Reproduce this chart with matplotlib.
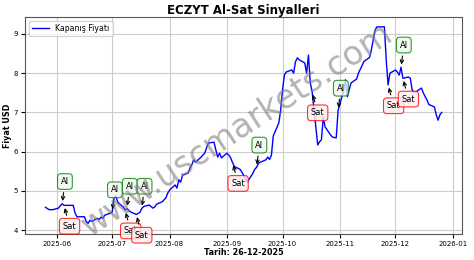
import matplotlib
matplotlib.use('Agg')
import matplotlib.pyplot as plt
import matplotlib.dates as mdates
import numpy as np
import pandas as pd

# closing prices
dates = ['2025-05-26', '2025-05-27', '2025-05-28', '2025-05-29', '2025-05-30',
         '2025-06-02', '2025-06-03', '2025-06-04', '2025-06-05', '2025-06-10',
         '2025-06-11', '2025-06-12', '2025-06-13', '2025-06-16', '2025-06-17',
         '2025-06-18', '2025-06-19', '2025-06-20', '2025-06-23', '2025-06-24',
         '2025-06-25', '2025-06-26', '2025-06-27', '2025-06-30', '2025-07-01',
         '2025-07-02', '2025-07-03', '2025-07-04', '2025-07-07', '2025-07-08',
         '2025-07-09', '2025-07-10', '2025-07-11', '2025-07-14', '2025-07-16',
         '2025-07-17', '2025-07-18', '2025-07-21', '2025-07-22', '2025-07-23',
         '2025-07-24', '2025-07-25', '2025-07-28', '2025-07-29', '2025-07-30',
         '2025-07-31', '2025-08-01', '2025-08-04', '2025-08-05', '2025-08-06',
         '2025-08-07', '2025-08-08', '2025-08-11', '2025-08-12', '2025-08-13',
         '2025-08-14', '2025-08-15', '2025-08-18', '2025-08-19', '2025-08-20',
         '2025-08-21', '2025-08-22', '2025-08-25', '2025-08-26', '2025-08-27',
         '2025-08-28', '2025-08-29', '2025-09-01', '2025-09-02', '2025-09-03',
         '2025-09-04', '2025-09-05', '2025-09-08', '2025-09-09', '2025-09-10',
         '2025-09-11', '2025-09-12', '2025-09-15', '2025-09-16', '2025-09-17',
         '2025-09-18', '2025-09-19', '2025-09-22', '2025-09-23', '2025-09-24',
         '2025-09-25', '2025-09-26', '2025-09-29', '2025-09-30', '2025-10-01',
         '2025-10-02', '2025-10-03', '2025-10-06', '2025-10-07', '2025-10-08',
         '2025-10-09', '2025-10-10', '2025-10-13', '2025-10-14', '2025-10-15',
         '2025-10-16', '2025-10-17', '2025-10-20', '2025-10-21', '2025-10-22',
         '2025-10-23', '2025-10-24', '2025-10-27', '2025-10-28', '2025-10-30',
         '2025-10-31', '2025-11-03', '2025-11-04', '2025-11-05', '2025-11-06',
         '2025-11-07', '2025-11-10', '2025-11-11', '2025-11-12', '2025-11-13',
         '2025-11-14', '2025-11-17', '2025-11-18', '2025-11-19', '2025-11-20',
         '2025-11-21', '2025-11-24', '2025-11-25', '2025-11-26', '2025-11-27',
         '2025-11-28', '2025-12-01', '2025-12-02', '2025-12-03', '2025-12-04',
         '2025-12-05', '2025-12-08', '2025-12-09', '2025-12-10', '2025-12-11',
         '2025-12-12', '2025-12-15', '2025-12-16', '2025-12-17', '2025-12-18',
         '2025-12-19', '2025-12-22', '2025-12-23', '2025-12-24', '2025-12-25',
         '2025-12-26']
prices = [4.58, 4.55, 4.52, 4.52, 4.52,
          4.56, 4.62, 4.67, 4.63, 4.63,
          4.43, 4.34, 4.34, 4.34, 4.22,
          4.17, 4.25, 4.22, 4.30, 4.27,
          4.33, 4.30, 4.38, 4.43, 4.46,
          4.80, 4.88, 4.71, 4.59, 4.51,
          4.55, 4.50, 4.46, 4.40, 4.45,
          4.55, 4.60, 4.64, 4.60, 4.56,
          4.59, 4.66, 4.72, 4.77, 4.82,
          4.94, 5.02, 5.15, 5.07, 5.28,
          5.22, 5.40, 5.45, 5.58, 5.66,
          5.79, 5.73, 5.86, 5.91, 5.96,
          6.10, 6.22, 6.24, 6.04, 5.86,
          5.96, 5.84, 5.96, 5.91, 5.84,
          5.72, 5.62, 5.55, 5.48, 5.40,
          5.30, 5.22, 5.45, 5.55, 5.60,
          5.70, 5.73, 5.79, 5.86, 5.80,
          5.91, 6.40, 6.73, 7.06, 7.57,
          7.95, 8.03, 8.08, 8.00, 8.29,
          8.39, 8.34, 8.26, 8.00, 8.46,
          7.75, 7.52, 6.17, 6.25, 6.30,
          6.86, 6.63, 6.42, 6.37, 6.35,
          7.05, 7.55, 7.83, 7.40, 7.57,
          7.75, 7.85, 8.00, 8.10, 8.20,
          8.30, 8.40, 8.60, 8.85, 9.10,
          9.18, 9.18, 9.18, 8.34, 7.70,
          8.00, 8.08, 8.03, 7.95, 8.15,
          7.87, 7.90, 7.87, 7.57, 7.52,
          7.52, 7.62, 7.50, 7.40, 7.32,
          7.20, 7.14, 6.94, 6.80, 6.94,
          7.00]

# buy / sell signal dates
buy_dates = ['2025-06-04', '2025-07-01', '2025-07-09', '2025-07-17',
             '2025-09-17', '2025-10-31', '2025-12-04']
sell_dates = ['2025-06-05', '2025-07-08', '2025-07-14', '2025-09-04',
              '2025-10-17', '2025-11-27', '2025-12-05']

s = pd.Series(prices, index=pd.to_datetime(dates))

fig = plt.figure(figsize=(4.74, 2.6), dpi=100)
ax = fig.add_axes([0.053, 0.1, 0.922, 0.836])
ax.plot(s.index, s.values, color='blue', linewidth=1, label='Kapanış Fiyatı')

for d in buy_dates:
    d = pd.Timestamp(d)
    ax.annotate('Al', (d, s[d]), xytext=(2, 16), textcoords='offset points',
                ha='center', va='center', fontsize=6,
                bbox=dict(boxstyle='round,pad=0.4', fc='#eef8ee', ec='green', lw=0.8, alpha=0.8),
                arrowprops=dict(arrowstyle='->', color='black', lw=0.8))
for d in sell_dates:
    d = pd.Timestamp(d)
    ax.annotate('Sat', (d, s[d]), xytext=(4, -15), textcoords='offset points',
                ha='center', va='center', fontsize=6,
                bbox=dict(boxstyle='round,pad=0.4', fc='#fdeeee', ec='red', lw=0.8, alpha=0.8),
                arrowprops=dict(arrowstyle='->', color='black', lw=0.8))

fig.text(0.5, 0.5, 'www.uscmarkets.com', fontsize=24, color='gray', alpha=0.6,
         rotation=33, ha='center', va='center')

ax.set_xlim(pd.Timestamp('2025-05-15'), pd.Timestamp('2026-01-06'))
ax.set_ylim(3.9, 9.44)
ax.set_yticks([4, 5, 6, 7, 8, 9])
ax.xaxis.set_major_locator(mdates.MonthLocator())
ax.xaxis.set_major_formatter(mdates.DateFormatter('%Y-%m'))
ax.tick_params(labelsize=5, length=3, pad=2)
ax.grid(True, color='#cccccc', linewidth=0.8)
ax.set_title('ECZYT Al-Sat Sinyalleri', fontsize=8.5, fontweight='bold', pad=2)
ax.set_xlabel('Tarih: 26-12-2025', fontsize=5.8, fontweight='bold', labelpad=1)
ax.set_ylabel('Fiyat USD', fontsize=5.8, fontweight='bold', labelpad=1)
ax.legend(loc='upper left', fontsize=5.6, handlelength=2.2)
for sp in ax.spines.values():
    sp.set_color('#555555')

fig.savefig('out.png', dpi=100)
